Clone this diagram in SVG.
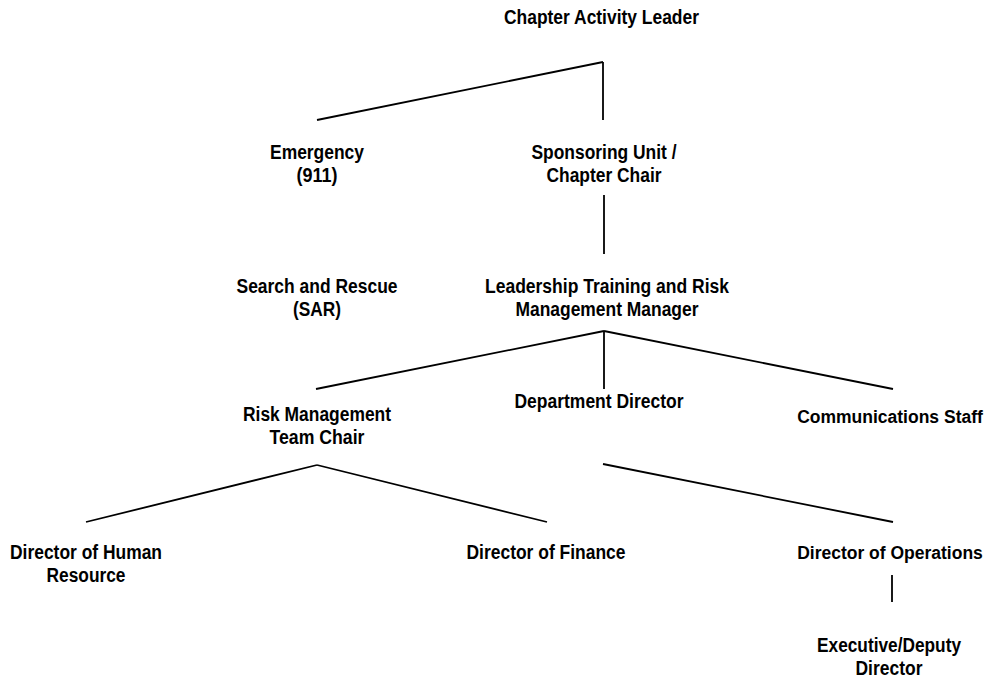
<svg xmlns="http://www.w3.org/2000/svg" width="988" height="679" viewBox="0 0 988 679">
<style>
text{font-family:"Liberation Sans",Arial,sans-serif;font-weight:bold;font-size:20px;fill:#000;text-anchor:middle}
text.w{font-size:17.5px}
.c line{stroke:#000;stroke-width:1.8;stroke-linecap:butt}
</style>
<rect width="988" height="679" fill="#fff"/>
<g class="c" id="connectors">
<line x1="317" y1="120" x2="603" y2="62"/>
<line x1="603" y1="62" x2="603" y2="120"/>
<line x1="604" y1="195" x2="604" y2="254"/>
<line x1="316" y1="389" x2="604" y2="331"/>
<line x1="604" y1="331" x2="893" y2="389"/>
<line x1="604" y1="331" x2="604" y2="389"/>
<line x1="86" y1="522" x2="317" y2="465"/>
<line x1="317" y1="465" x2="547" y2="522"/>
<line x1="603" y1="464" x2="893" y2="522"/>
<line x1="892" y1="575" x2="892" y2="602"/>
</g>
<g id="chapter-activity-leader"><text x="601.5" y="24" textLength="195" lengthAdjust="spacingAndGlyphs">Chapter Activity Leader</text></g>
<g id="emergency"><text x="317" y="159" textLength="94" lengthAdjust="spacingAndGlyphs">Emergency</text><text x="317" y="182" textLength="41" lengthAdjust="spacingAndGlyphs">(911)</text></g>
<g id="sponsoring-unit"><text x="604" y="159" textLength="145" lengthAdjust="spacingAndGlyphs">Sponsoring Unit /</text><text x="604" y="182" textLength="115" lengthAdjust="spacingAndGlyphs">Chapter Chair</text></g>
<g id="search-rescue"><text x="317" y="293" textLength="161" lengthAdjust="spacingAndGlyphs">Search and Rescue</text><text x="317" y="316" textLength="48" lengthAdjust="spacingAndGlyphs">(SAR)</text></g>
<g id="leadership-training"><text x="607" y="293" textLength="244" lengthAdjust="spacingAndGlyphs">Leadership Training and Risk</text><text x="607" y="316" textLength="183" lengthAdjust="spacingAndGlyphs">Management Manager</text></g>
<g id="department-director"><text x="599" y="408" textLength="169" lengthAdjust="spacingAndGlyphs">Department Director</text></g>
<g id="risk-management"><text x="317" y="421" textLength="148" lengthAdjust="spacingAndGlyphs">Risk Management</text><text x="317" y="444" textLength="95" lengthAdjust="spacingAndGlyphs">Team Chair</text></g>
<g id="communications-staff"><text class="w" x="890" y="423">Communications Staff</text></g>
<g id="director-human-resource"><text x="86" y="559" textLength="152" lengthAdjust="spacingAndGlyphs">Director of Human</text><text x="86" y="582" textLength="79" lengthAdjust="spacingAndGlyphs">Resource</text></g>
<g id="director-finance"><text x="546" y="559" textLength="159" lengthAdjust="spacingAndGlyphs">Director of Finance</text></g>
<g id="director-operations"><text class="w" x="890" y="559">Director of Operations</text></g>
<g id="executive-deputy"><text x="889" y="652" textLength="144" lengthAdjust="spacingAndGlyphs">Executive/Deputy</text><text x="889" y="675" textLength="67" lengthAdjust="spacingAndGlyphs">Director</text></g>
</svg>
